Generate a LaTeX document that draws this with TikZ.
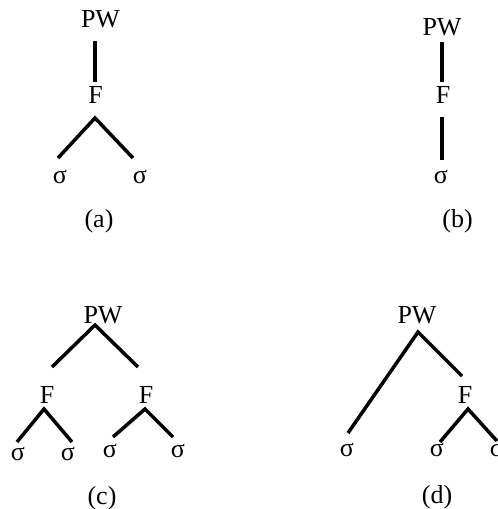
\documentclass[tikz,border=0pt]{standalone}
\usepackage{fontspec}
\setmainfont{Liberation Serif}
\begin{document}
\begin{tikzpicture}[x=1pt,y=-1pt,
  lbl/.style={anchor=base,inner sep=0pt,font=\fontsize{26}{30}\selectfont},
  branch/.style={line width=3.5pt}]
\useasboundingbox (0,0) rectangle (498,509);
% (a)
\node[lbl] (aPW) at (100.5,27) {PW};
\node[lbl] (aF) at (95.5,103) {F};
\node[lbl] (as1) at (60,183) {σ};
\node[lbl] (as2) at (140,183) {σ};
\node[lbl] (alab) at (99,227) {(a)};
\coordinate (aT) at (95,41); \coordinate (aB) at (95,82);
\coordinate (aA) at (95,118); \coordinate (aL) at (58,158); \coordinate (aR) at (133,158);
\draw[branch] (aT) -- (aB);
\draw[branch] (aL) -- (aA) -- (aR);
% (b)
\node[lbl] (bPW) at (442,35) {PW};
\node[lbl] (bF) at (443,103) {F};
\node[lbl] (bs) at (441,183) {σ};
\node[lbl] (blab) at (457.5,227) {(b)};
\coordinate (bT1) at (442,42); \coordinate (bB1) at (442,82);
\coordinate (bT2) at (442,117); \coordinate (bB2) at (442,160);
\draw[branch] (bT1) -- (bB1);
\draw[branch] (bT2) -- (bB2);
% (c)
\node[lbl] (cPW) at (103,323) {PW};
\node[lbl] (cF1) at (47,403) {F};
\node[lbl] (cF2) at (146,403) {F};
\node[lbl] (cs1) at (18,460) {σ};
\node[lbl] (cs2) at (68,460) {σ};
\node[lbl] (cs3) at (110,457) {σ};
\node[lbl] (cs4) at (178,457) {σ};
\node[lbl] (clab) at (102,504) {(c)};
\coordinate (cA) at (95,325); \coordinate (cL) at (52,367); \coordinate (cR) at (138,367);
\coordinate (cA1) at (44,409); \coordinate (cL1) at (17,442); \coordinate (cR1) at (72,442);
\coordinate (cA2) at (145,409); \coordinate (cL2) at (113,437); \coordinate (cR2) at (173,437);
\draw[branch] (cL) -- (cA) -- (cR);
\draw[branch] (cL1) -- (cA1) -- (cR1);
\draw[branch] (cL2) -- (cA2) -- (cR2);
% (d)
\node[lbl] (dPW) at (417,323) {PW};
\node[lbl] (dF) at (465,403) {F};
\node[lbl] (ds1) at (347,456) {σ};
\node[lbl] (ds2) at (437,456) {σ};
\node[lbl] (ds3) at (497,456) {σ};
\node[lbl] (dlab) at (437,503) {(d)};
\coordinate (dA) at (418,332); \coordinate (dL) at (348,433); \coordinate (dR) at (462,376);
\coordinate (dA1) at (468,409); \coordinate (dL1) at (440,442); \coordinate (dR1) at (497,441);
\draw[branch] (dL) -- (dA) -- (dR);
\draw[branch] (dL1) -- (dA1) -- (dR1);
\end{tikzpicture}
\end{document}
